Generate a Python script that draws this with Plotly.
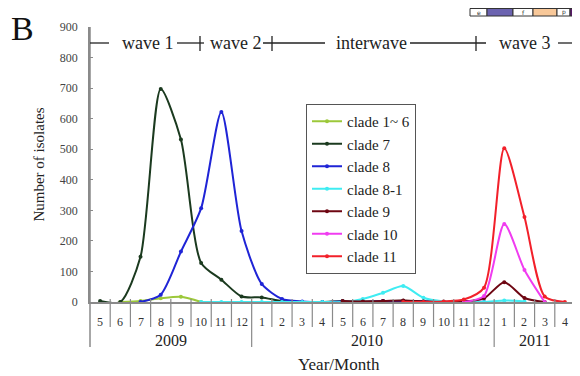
import plotly.graph_objects as go

# ---------------- data ----------------
months = ["5", "6", "7", "8", "9", "10", "11", "12",
          "1", "2", "3", "4", "5", "6", "7", "8", "9", "10", "11", "12",
          "1", "2", "3", "4"]
years = ["2009", "2010", "2011"]
N = None
clade_1_6 = [N, 0, 3, 12, 17, 0] + [N] * 18
clade_7 = [3, 0, 148, 697, 532, 128, 73, 18, 15, 3, 0, 0, 3, 2, 3, 4, 2, 1, 0] + [N] * 5
clade_8 = [N, N, 0, 24, 165, 307, 622, 232, 59, 10, 2, 0, 2, 0, 3, 3, 2, 0, 3, 0] + [N] * 4
clade_8_1 = [N] * 5 + [0, 0, 0, 0, 0, 0, 0, 0, 10, 30, 52, 14, 2, 0, 0, 5, 2] + [N] * 2
clade_9 = [N] * 12 + [3, 2, 3, 5, 2, 0, 2, 12, 65, 13, 0, N]
clade_10 = [N] * 18 + [0, 20, 255, 105, 0, N]
clade_11 = [N] * 15 + [0, 0, 2, 8, 47, 503, 278, 18, 0]

series = [
    ("clade 1~ 6", clade_1_6, "#9cc83a"),
    ("clade 7", clade_7, "#1b3a1f"),
    ("clade 8", clade_8, "#1f24d6"),
    ("clade 8-1", clade_8_1, "#3fecf2"),
    ("clade 9", clade_9, "#6e0612"),
    ("clade 10", clade_10, "#f03cf0"),
    ("clade 11", clade_11, "#f2202a"),
]
waves = ["wave 1", "wave 2", "interwave", "wave 3"]

# ---------------- layout helpers (reference pixels -> paper) ----------------
OFF = 8  # page body margin
L, R, T, B = 90, 575, 27, 302
W, H = 580 - OFF, 376 - OFF


def px(x):
    return (x - L) / (R - L)


def py(y):
    return (B - y) / (B - T)


SERIF = "Liberation Serif"
GRAY = "#8a8a8a"
x = list(range(len(months)))

fig = go.Figure()
for name, vals, col in series:
    fig.add_trace(go.Scatter(
        x=x, y=vals, name=name, mode="lines+markers",
        line=dict(color=col, width=2, shape="spline", smoothing=0.7),
        marker=dict(color=col, size=4),
        connectgaps=False,
    ))

shapes = []
annotations = []

# month divider lines below the axis
for i in range(1, len(months) + 1):
    xd = i - 0.5
    long = i in (8, 20)
    shapes.append(dict(type="line", xref="x", yref="paper", x0=xd, x1=xd,
                       y0=py(299), y1=py(347 if long else 327),
                       line=dict(color=GRAY, width=1.2)))
# y-axis extension down
shapes.append(dict(type="line", xref="paper", yref="paper", x0=0, x1=0,
                   y0=py(347), y1=1.0, line=dict(color=GRAY, width=1.5)))

for i, m in enumerate(months):
    annotations.append(dict(x=i, y=py(322), xref="x", yref="paper", text=m,
                            showarrow=False, font=dict(family=SERIF, size=12, color="#333"),
                            xanchor="center", yanchor="middle"))
for yr, xc in zip(years, [3.5, 13.2, 21.5]):
    annotations.append(dict(x=xc, y=py(340), xref="x", yref="paper", text=yr,
                            showarrow=False, font=dict(family=SERIF, size=16, color="#222"),
                            xanchor="center", yanchor="middle"))

annotations.append(dict(x=px(339), y=py(364), xref="paper", yref="paper", text="Year/Month",
                        showarrow=False, font=dict(family=SERIF, size=17, color="#222"),
                        xanchor="center", yanchor="middle"))
annotations.append(dict(x=px(22), y=py(28), xref="paper", yref="paper", text="B",
                        showarrow=False, font=dict(family=SERIF, size=34, color="#111"),
                        xanchor="center", yanchor="middle"))

# wave header
wy = py(43)
segs = [(90, 109), (177, 204), (263, 325), (410, 486), (558, 575)]
for a, b in segs:
    shapes.append(dict(type="line", xref="paper", yref="paper", x0=px(a), x1=px(b),
                       y0=wy, y1=wy, line=dict(color="#222", width=1.3)))
for c in [200, 272, 476, 575]:
    shapes.append(dict(type="line", xref="paper", yref="paper", x0=px(c), x1=px(c),
                       y0=py(36), y1=py(51), line=dict(color="#222", width=1.3)))
for t, c in zip(waves, [147, 235, 371, 524]):
    annotations.append(dict(x=px(c), y=wy, xref="paper", yref="paper", text=t,
                            showarrow=False, font=dict(family=SERIF, size=18, color="#222"),
                            xanchor="center", yanchor="middle"))

# cropped colour strip at the top-right corner
strip = [(470, 487, "white", "e"), (487, 513, "#6b63b0", ""), (513, 533, "white", "f"),
         (533, 557, "#f8c899", ""), (557, 570, "white", "p"), (570, 581, "#5a1a6a", "")]
for a, b, col, t in strip:
    shapes.append(dict(type="rect", xref="paper", yref="paper", x0=px(a), x1=px(b),
                       y0=py(16), y1=py(8.5), fillcolor=col, line=dict(color="#333", width=1)))
    if t:
        annotations.append(dict(x=px((a + b) / 2), y=py(12.3), xref="paper", yref="paper", text=t,
                                showarrow=False, font=dict(family="DejaVu Sans", size=6, color="#333"),
                                xanchor="center", yanchor="middle"))

fig.update_layout(
    width=W, height=H,
    margin=dict(l=L - OFF, r=(580 - OFF) - (R - OFF), t=T - OFF, b=(376 - OFF) - (B - OFF)),
    paper_bgcolor="white", plot_bgcolor="white",
    showlegend=True,
    legend=dict(x=px(306), y=py(104), xanchor="left", yanchor="top",
                bordercolor="#555", borderwidth=1, bgcolor="white",
                font=dict(family=SERIF, size=15, color="#222"),
                tracegroupgap=0, itemwidth=30),
    xaxis=dict(range=[-0.5, 23.5], showgrid=False, zeroline=False,
               showline=True, linecolor=GRAY, linewidth=1.5,
               showticklabels=False, ticks=""),
    yaxis=dict(range=[0, 900], dtick=100, showgrid=False, zeroline=False,
               showline=True, linecolor=GRAY, linewidth=1.5,
               ticks="inside", ticklen=3, tickcolor=GRAY,
               tickfont=dict(family=SERIF, size=12, color="#444"),
               ticklabelstandoff=8,
               title=dict(text="Number of isolates", standoff=12,
                          font=dict(family=SERIF, size=15, color="#222"))),
    shapes=shapes, annotations=annotations,
)

fig.write_html("out.html")
